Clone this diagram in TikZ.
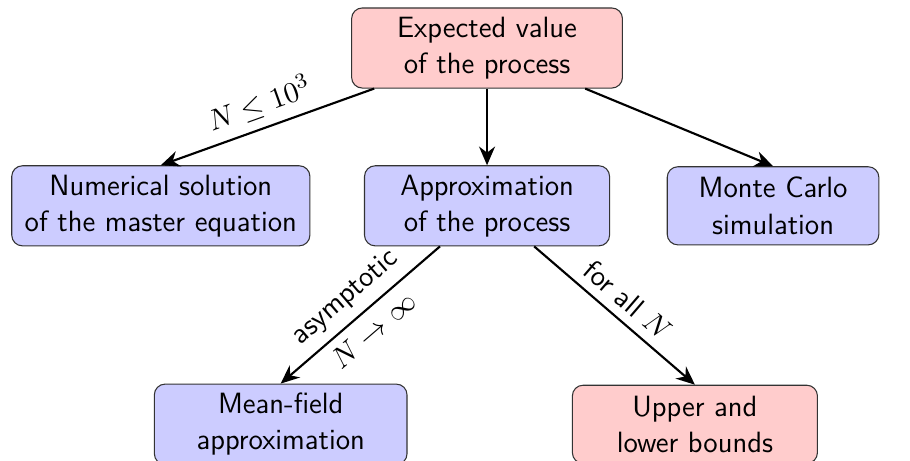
\documentclass[tikz,border=0pt]{standalone}
\usepackage{amsmath,amssymb}
\usepackage{tikz}
\usetikzlibrary{positioning, arrows.meta}
\renewcommand{\familydefault}{\sfdefault}

\begin{document}
\begin{tikzpicture}[
        every node/.style={font=\fontsize{11}{13.6}\selectfont},
        redbox/.style={
            rectangle,
            rounded corners=4pt,
            draw=black!80,
            fill=red!20,
            align=center,
            minimum height=1.03cm,
            inner xsep=4pt
        },
        bluebox/.style={
            redbox,
            fill=blue!20
        },
        link/.style={
            -{Stealth[length=7pt,width=6pt]},
            thick
        }
    ]
    \useasboundingbox (-6.42,0.633) rectangle (5.575,-5.443);

    % Expected value
    \node[redbox, minimum width=3.57cm] (expected) at (0,0) {Expected value\\of the process};

    % Second row
    \node[bluebox, minimum width=3.93cm] (numerical) at (-4.30,-2.08) {Numerical solution\\of the master equation};
    \node[bluebox, minimum width=3.23cm] (approx) at (0,-2.08) {Approximation\\of the process};
    \node[bluebox, minimum width=2.79cm] (montecarlo) at (3.77,-2.08) {Monte Carlo\\simulation};

    % Third row
    \node[bluebox, minimum width=3.33cm] (meanfield) at (-2.72,-4.96) {Mean-field\\approximation};
    \node[redbox, minimum width=3.23cm] (bounds) at (2.74,-4.96) {Upper and\\lower bounds};

    % Links
    \draw[link] (expected) -- (numerical.north) node[midway, above, sloped] {$N \leq 10^3$};
    \draw[link] (expected) -- (approx);
    \draw[link] (expected) -- (montecarlo.north);
    \draw[link] (approx) -- (meanfield.north)
        node[midway, above, sloped] {asymptotic}
        node[midway, below, sloped] {$N \to \infty$};
    \draw[link] (approx) -- (bounds.north) node[midway, above, sloped] {for all $N$};

\end{tikzpicture}
\end{document}
